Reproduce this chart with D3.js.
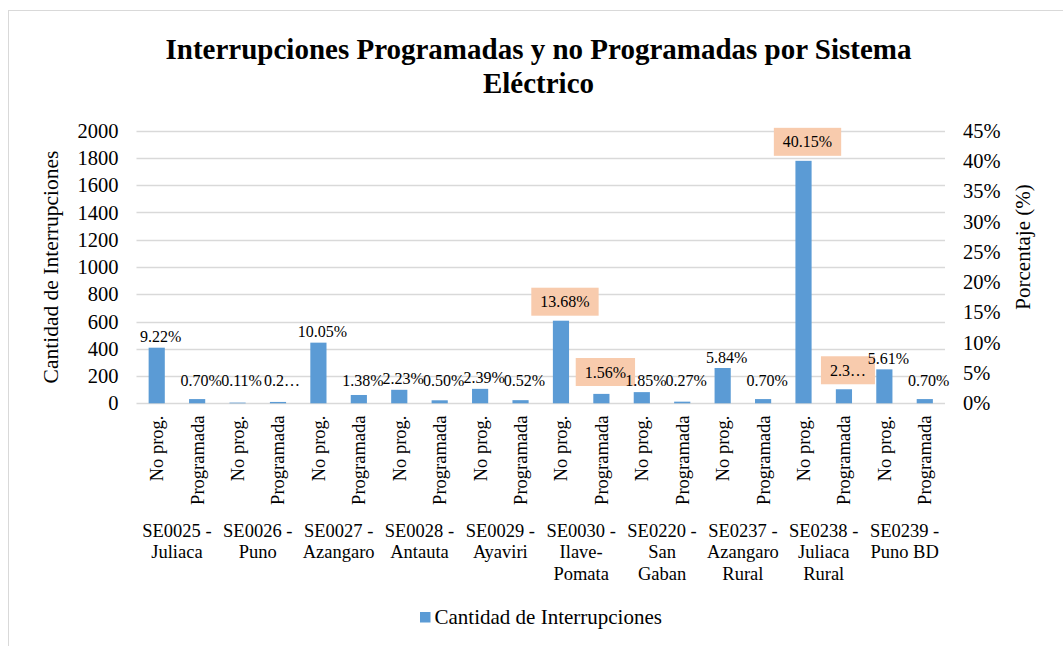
<!DOCTYPE html>
<html>
<head>
<meta charset="utf-8">
<script src="https://cdn.jsdelivr.net/npm/d3@7/dist/d3.min.js"></script>
<style>
  html, body { margin: 0; padding: 0; background: #fff; }
  svg text { font-family: "Liberation Serif", "Times New Roman", serif; fill: #000; }
</style>
</head>
<body>
<svg id="chart" width="1063" height="646"></svg>
<script>
// ---------- data ----------
const groups = ["SE0025 -\nJuliaca", "SE0026 -\nPuno", "SE0027 -\nAzangaro", "SE0028 -\nAntauta",
  "SE0029 -\nAyaviri", "SE0030 -\nIlave-\nPomata", "SE0220 -\nSan\nGaban", "SE0237 -\nAzangaro\nRural",
  "SE0238 -\nJuliaca\nRural", "SE0239 -\nPuno BD"];
const types = ["No prog.", "Programada"];
const counts = [408, 31, 5, 10, 445, 61, 99, 22, 106, 23, 606, 69, 82, 12, 259, 31, 1779, 103, 249, 31];
const pctLabels = ["9.22%", "0.70%", "0.11%", "0.2…", "10.05%", "1.38%", "2.23%", "0.50%", "2.39%", "0.52%",
  "13.68%", "1.56%", "1.85%", "0.27%", "5.84%", "0.70%", "40.15%", "2.3…", "5.61%", "0.70%"];
const highlightGroups = ["SE0030 -\nIlave-\nPomata", "SE0238 -\nJuliaca\nRural"];
const leftTicks = [0, 200, 400, 600, 800, 1000, 1200, 1400, 1600, 1800, 2000];
const rightTicks = [0, 0.05, 0.10, 0.15, 0.20, 0.25, 0.30, 0.35, 0.40, 0.45];
const titleLines = ["Interrupciones Programadas y no Programadas por Sistema", "Eléctrico"];
const seriesName = "Cantidad de Interrupciones";

// ---------- build rows ----------
const rows = [];
groups.forEach((g, gi) => types.forEach((t, ti) => {
  const i = gi * types.length + ti;
  rows.push({ key: i, group: g, type: t, value: counts[i], label: pctLabels[i], hl: highlightGroups.includes(g) });
}));

// ---------- layout ----------
const svg = d3.select("#chart");
const plot = { left: 136.5, right: 945, top: 130.7, bottom: 403.3 };
const BLUE = "#5B9BD5";

// chart frame
svg.append("rect").attr("x", 8.5).attr("y", 10.5).attr("width", 1100).attr("height", 700)
  .attr("fill", "#fff").attr("stroke", "#D9D9D9").attr("stroke-width", 1);

const x = d3.scaleBand().domain(rows.map(d => d.key)).range([plot.left, plot.right])
  .paddingInner(0.6).paddingOuter(0.3);
const y = d3.scaleLinear().domain([0, 2000]).range([plot.bottom, plot.top]);
const y2 = d3.scaleLinear().domain([0, 0.45]).range([plot.bottom, plot.top]);

// title
svg.append("text").attr("x", 538.5).attr("y", 59).attr("text-anchor", "middle")
  .style("font-size", "29px").style("font-weight", "bold")
  .selectAll("tspan").data(titleLines).join("tspan")
  .attr("x", 538.5).attr("dy", (d, i) => i === 0 ? 0 : 34).text(d => d);

// gridlines
svg.append("g").selectAll("line").data(leftTicks).join("line")
  .attr("x1", plot.left).attr("x2", plot.right)
  .attr("y1", d => Math.round(y(d)) + 0.5).attr("y2", d => Math.round(y(d)) + 0.5)
  .attr("stroke", "#D9D9D9").attr("stroke-width", 1.3);

// left axis
const gl = svg.append("g").attr("transform", `translate(${plot.left},0)`)
  .call(d3.axisLeft(y).tickValues(leftTicks).tickSize(0).tickPadding(18).tickFormat(d3.format("d")));
gl.select(".domain").remove();
gl.selectAll("text").style("font-size", "20.5px").style("font-family", "'Liberation Serif', serif").attr("fill", "#000");

// right axis
const gr = svg.append("g").attr("transform", `translate(${plot.right},0)`)
  .call(d3.axisRight(y2).tickValues(rightTicks).tickSize(0).tickPadding(18).tickFormat(d3.format(".0%")));
gr.select(".domain").remove();
gr.selectAll("text").style("font-size", "20.5px").style("font-family", "'Liberation Serif', serif").attr("fill", "#000");

// axis titles
svg.append("text").attr("transform", "translate(58,267) rotate(-90)").attr("text-anchor", "middle")
  .style("font-size", "21.5px").text("Cantidad de Interrupciones");
svg.append("text").attr("transform", "translate(1030,247) rotate(-90)").attr("text-anchor", "middle")
  .style("font-size", "21px").text("Porcentaje (%)");

// bars
svg.append("g").selectAll("rect").data(rows).join("rect")
  .attr("x", d => x(d.key)).attr("width", x.bandwidth())
  .attr("y", d => y(d.value)).attr("height", d => y(0) - y(d.value))
  .attr("fill", BLUE);

// data labels
const lg = svg.append("g");
rows.forEach(d => {
  const cx = x(d.key) + x.bandwidth() / 2 + 4;
  const cy = Math.min(y(d.value) - 11, 380) - (d.hl ? 8 : 0);
  const t = lg.append("text").attr("x", cx).attr("y", cy).attr("dy", "0.35em")
    .attr("text-anchor", "middle").style("font-size", "16px").text(d.label);
  if (d.hl) {
    const w = t.node().getComputedTextLength() + 18;
    lg.insert("rect", () => t.node()).attr("x", cx - w / 2).attr("y", cy - 14)
      .attr("width", w).attr("height", 28).attr("fill", "#F8CBAD");
  }
});

// category labels (rotated)
svg.append("g").selectAll("text").data(rows).join("text")
  .attr("transform", d => `translate(${x(d.key) + x.bandwidth() / 2},415.5) rotate(-90)`)
  .attr("text-anchor", "end").attr("dy", "0.35em")
  .style("font-size", "18.5px").text(d => d.type);

// group labels
groups.forEach((g, gi) => {
  const k0 = gi * types.length, k1 = k0 + types.length - 1;
  const cx = (x(k0) + x(k1) + x.bandwidth()) / 2;
  svg.append("text").attr("text-anchor", "middle").style("font-size", "18.5px")
    .selectAll("tspan").data(g.split("\n")).join("tspan")
    .attr("x", cx).attr("y", (d, i) => 537 + i * 21.3).text(d => d);
});

// legend
const legend = svg.append("g");
legend.append("rect").attr("x", 420).attr("y", 612).attr("width", 10.5).attr("height", 10.5).attr("fill", BLUE);
legend.append("text").attr("x", 434.5).attr("y", 624).style("font-size", "21px").text(seriesName);
</script>
</body>
</html>
